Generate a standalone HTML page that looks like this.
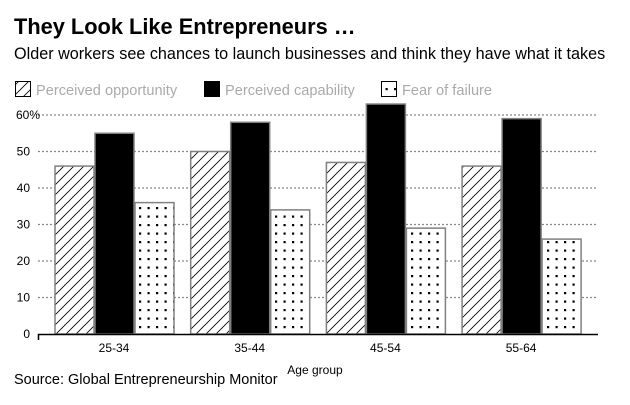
<!DOCTYPE html>
<html><head><meta charset="utf-8"><style>
body{margin:0;background:#fff;width:630px;height:400px;overflow:hidden;font-family:"Liberation Sans",sans-serif}
</style></head><body>
<svg width="630" height="400" xmlns="http://www.w3.org/2000/svg" font-family="Liberation Sans, sans-serif">
<defs>
<pattern id="hatch" width="10" height="10" patternUnits="userSpaceOnUse"><rect width="10" height="10" fill="#fff"/><path d="M-1,11 L11,-1 M-6,6 L6,-6 M4,16 L16,4" stroke="#000" stroke-width="0.8"/></pattern>
<pattern id="dots" width="8.5" height="8.5" patternUnits="userSpaceOnUse"><rect width="8.5" height="8.5" fill="#fff"/><rect x="3" y="3" width="2.2" height="2.2" fill="#000"/></pattern>
</defs>
<text x="14" y="34" font-size="21.8" font-weight="bold">They Look Like Entrepreneurs …</text>
<text x="14" y="59" font-size="16.2">Older workers see chances to launch businesses and think they have what it takes</text>
<g font-size="14.6" fill="#aaa">
<rect x="15.5" y="81.5" width="15" height="15" fill="url(#hatch)" stroke="#000"/>
<text x="36" y="95">Perceived opportunity</text>
<rect x="204" y="81" width="16" height="16" fill="#000"/>
<text x="225" y="95">Perceived capability</text>
<rect x="381.5" y="81.5" width="15" height="15" fill="url(#dots)" stroke="#000"/>
<text x="402" y="95">Fear of failure</text>
</g>
<g id="grid"></g>
<g id="bars"></g>
<g id="labels" font-size="12"></g>
<text x="315" y="374" font-size="12" text-anchor="middle">Age group</text>
<text x="14" y="384" font-size="14.5">Source: Global Entrepreneurship Monitor</text>
</svg>
<script>
const categories=["25-34","35-44","45-54","55-64"];
const opportunity=[46,50,47,46];
const capability=[55,58,63,59];
const fear=[36,34,29,26];
const yTicks=[0,10,20,30,40,50,60];
const yTickLabels=["0","10","20","30","40","50","60%"];
const NS="http://www.w3.org/2000/svg";
const y0=334,pxPer=(334-115)/60;
const y=v=>y0-v*pxPer;
const x=i=>55+i*135.7;
function mk(t,a,p){const e=document.createElementNS(NS,t);for(const k in a)e.setAttribute(k,a[k]);p.appendChild(e);return e;}
const grid=document.getElementById('grid'),bars=document.getElementById('bars'),labels=document.getElementById('labels');
yTicks.forEach((v,i)=>{
  if(v>0){const l=mk('line',{x1:38,x2:598,y1:y(v),y2:y(v),stroke:'#888','stroke-width':1.3,'stroke-dasharray':'2,2'},grid);
  
  }
  const t=mk('text',{x:i==6?16:30,y:y(v)+4,'text-anchor':i==6?'start':'end'},labels);t.textContent=yTickLabels[i];
  
  
});
const series=[[opportunity,'url(#hatch)','opportunity'],[capability,'#000','capability'],[fear,'url(#dots)','fear']];
categories.forEach((c,i)=>{
  series.forEach((s,j)=>{
    const v=s[0][i];
    const r=mk('rect',{x:x(i)+j*40,y:y(v),width:39,height:y0-y(v),fill:s[1],stroke:'#808080','stroke-width':1.5},bars);
    
    
  });
  const t=mk('text',{x:x(i)+59,y:352,'text-anchor':'middle'},labels);t.textContent=c;
  
  
});
const ax=mk('path',{d:'M38.5,340 V334.5 H598',stroke:'#000','stroke-width':1.5,fill:'none'},bars);


</script>
</body></html>
